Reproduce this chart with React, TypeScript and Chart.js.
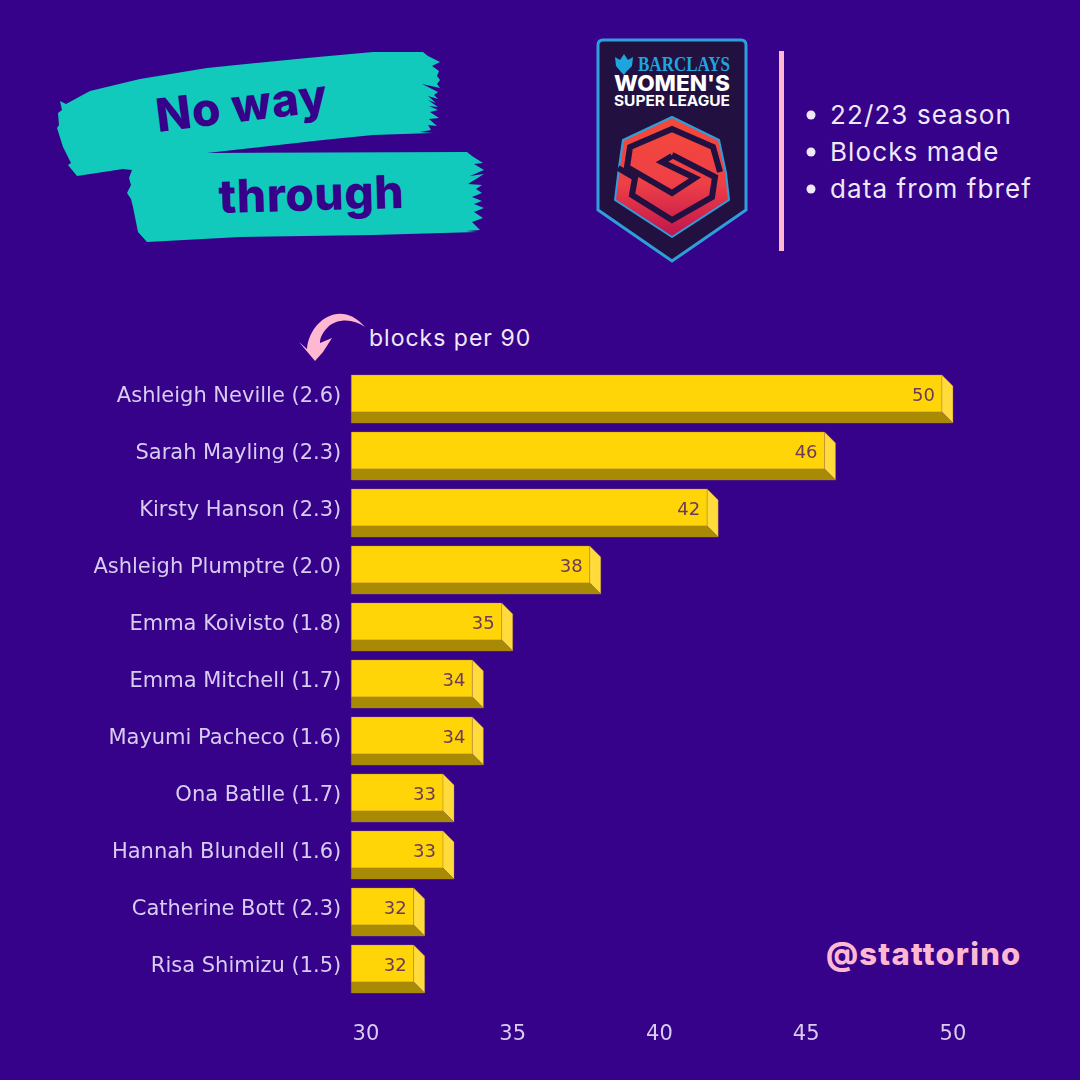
import { useEffect, useRef } from "react"
import { Chart, registerables } from "chart.js"

Chart.register(...registerables)

const players = [
  "Ashleigh Neville",
  "Sarah Mayling",
  "Kirsty Hanson",
  "Ashleigh Plumptre",
  "Emma Koivisto",
  "Emma Mitchell",
  "Mayumi Pacheco",
  "Ona Batlle",
  "Hannah Blundell",
  "Catherine Bott",
  "Risa Shimizu",
]
const blocksPer90 = [2.6, 2.3, 2.3, 2.0, 1.8, 1.7, 1.6, 1.7, 1.6, 2.3, 1.5]
const blocks = [50, 46, 42, 38, 35, 34, 34, 33, 33, 32, 32]
const xTicks = [30, 35, 40, 45, 50]
const notes = ["22/23 season", "Blocks made", "data from fbref"]

const BG = "#36028a"
const PINK = "#ffb8d2"
const LABEL = "#d8ccf0"
const YELLOW = "#ffd508"
const DEPTH = 11

// bars are drawn by hand so they get the bevelled look
const bars3d = {
  id: "bars3d",
  beforeDatasetDraw(chart: any, args: any) {
    const ctx = chart.ctx
    args.meta.data.forEach((bar: any) => {
      const top = bar.y - bar.height / 2
      const bottom = bar.y + bar.height / 2
      const front = bar.x - DEPTH
      const poly = (pts: number[][], fill: string) => {
        ctx.beginPath()
        pts.forEach((p, i) => (i ? ctx.lineTo(p[0], p[1]) : ctx.moveTo(p[0], p[1])))
        ctx.closePath()
        ctx.fillStyle = fill
        ctx.fill()
        ctx.lineWidth = 1
        ctx.strokeStyle = "rgba(175,125,60,0.35)"
        ctx.stroke()
      }
      poly([[bar.base, top], [front, top], [front, bottom - DEPTH], [bar.base, bottom - DEPTH]], YELLOW)
      poly([[front, top], [bar.x, top + DEPTH], [bar.x, bottom], [front, bottom - DEPTH]], "#ffdb3c")
      poly([[bar.base, bottom - DEPTH], [front, bottom - DEPTH], [bar.x, bottom], [bar.base, bottom]], "#a98a04")
    })
    return false
  },
  afterDraw(chart: any) {
    const ctx = chart.ctx
    const meta = chart.getDatasetMeta(0)
    ctx.save()
    ctx.font = "18px 'DejaVu Sans'"
    ctx.fillStyle = "#6b3a5c"
    ctx.textAlign = "right"
    ctx.textBaseline = "middle"
    meta.data.forEach((bar: any, i: number) => {
      ctx.fillText(String(blocks[i]), bar.x - DEPTH - 7, bar.y - 3)
    })
    ctx.restore()
  },
}

function Header() {
  return (
    <svg width={1080} height={1080} style={{ position: "absolute", left: 0, top: 0 }}>
      <defs>
        <linearGradient id="wsl" x1="0" y1="0" x2="0" y2="1">
          <stop offset="0" stopColor="#f5493a" />
          <stop offset="0.55" stopColor="#ee4046" />
          <stop offset="1" stopColor="#c0144f" />
        </linearGradient>
      </defs>

      {/* brush strokes */}
      <path
        fill="#12cabb"
        d="M60 101 L66 104 L90 91 L140 79 L207 68 L307 58 L373 52 L423 52 L428 56 L440 62 L432 66 L439 71 L437 76 L440 80 L437 84 L440 88 L422 84 L438 92 L434 95 L438 99 L428 96 L436 103 L428 100 L438 107 L429 106 L438 110 L430 112 L439 118 L429 119 L437 126 L428 125 L431 130 L420 132 L433 133 L373 135 L323 140 L207 153 L467 152 L472 156 L483 163 L474 164 L484 170 L470 176 L484 174 L468 184 L482 185 L476 189 L482 193 L472 197 L482 201 L474 204 L484 208 L474 212 L483 218 L472 222 L480 230 L466 231 L477 232 L373 235 L240 237 L147 242 L138 232 L136 222 L133 207 L131 199 L127 193 L131 185 L129 178 L132 170 L123 169 L77 176 L68 165 L71 163 L63 147 L57 128 L59 125 L58 113 L62 110 Z"
      />
      <text transform="translate(158 132) rotate(-7)" fontFamily="Inter" fontWeight={800} fontSize={46} letterSpacing={0.8} fill="#36028a">No way</text>
      <text transform="translate(219 213) rotate(-1.6)" fontFamily="Inter" fontWeight={800} fontSize={46} letterSpacing={0.6} fill="#36028a">through</text>

      {/* league badge */}
      <path d="M603 40 H741 Q746 40 746 45 V210 L672 261 L598 210 V45 Q598 40 603 40 Z" fill="#221040" stroke="#2f9fdc" strokeWidth={3} />
      <path d="M615 57 L620 60 L624 54 L628 60 L633 57 L632 66 L626 72 L624 75 L621 72 L616 66 Z" fill="#1fa5de" />
      <text x={638} y={71} fontFamily="Liberation Serif" fontWeight={700} fontSize={21} fill="#1fa5de" textLength={92} lengthAdjust="spacingAndGlyphs">BARCLAYS</text>
      <text x={614} y={91} fontFamily="Inter" fontWeight={800} fontSize={21} fill="#ffffff" textLength={116} lengthAdjust="spacingAndGlyphs">WOMEN'S</text>
      <text x={614} y={106} fontFamily="Inter" fontWeight={700} fontSize={14} fill="#ffffff" textLength={116} lengthAdjust="spacingAndGlyphs">SUPER LEAGUE</text>
      <path d="M672 117 L719 140 L726 173 L729 200 L672 237 L615 200 L619 167 L623 140 Z" fill="url(#wsl)" stroke="#2f9fdc" strokeWidth={2} strokeLinejoin="round" />
      <g fill="none" stroke="#221040" strokeWidth={6} strokeLinejoin="miter">
        <path d="M720 172 L713 147 L672 129 L630 147 L627 167 L672 193 L695 178 L662 162 L672 156" />
        <path d="M618 168 L635 178 L632 195 L672 220 L712 197 L715 177 L672 155" />
      </g>

      <rect x={779} y={51} width={5} height={200} fill={PINK} />

      {notes.map((note, i) => (
        <g key={note}>
          <circle cx={811} cy={115 + i * 37} r={4.5} fill="#efe8f8" />
          <text x={830} y={124 + i * 37} fontFamily="Inter" fontSize={26} letterSpacing={1.1} fill="#efe8f8">{note}</text>
        </g>
      ))}

      {/* arrow to the per 90 numbers */}
      <path d="M365 327 C354 319 338 318 328 327 C322 333 320 338 320 343 L332 338 L323 352 L315 361 L299 342 L307 349 C309 322 340 298 365 327 Z" fill={PINK} />
      <text x={369} y={346} fontFamily="Inter" fontSize={23} letterSpacing={1} fill="#efe8f8">blocks per 90</text>
      <text x={826} y={965} fontFamily="Inter" fontWeight={800} fontSize={31} letterSpacing={1.2} fill={PINK}>@stattorino</text>
    </svg>
  )
}

export default function App() {
  const chartRef = useRef<HTMLCanvasElement>(null)

  useEffect(() => {
    if (!chartRef.current) return
    const chart = new Chart(chartRef.current, {
      type: "bar",
      data: {
        labels: players.map((p, i) => `${p} (${blocksPer90[i].toFixed(1)})`),
        datasets: [{ data: blocks, backgroundColor: YELLOW, barThickness: 48, base: 29.5 }],
      },
      plugins: [bars3d],
      options: {
        indexAxis: "y",
        responsive: false,
        animation: false,
        devicePixelRatio: 1,
        layout: { padding: { left: 0, right: 97.7, top: 370.5, bottom: 22.5 } },
        scales: {
          x: {
            min: 29.5,
            max: 51,
            afterBuildTicks: (axis: any) => {
              axis.ticks = xTicks.map((value) => ({ value }))
            },
            afterFit: (axis: any) => {
              axis.height = 60
            },
            grid: { display: false },
            border: { display: false },
            ticks: {
              color: LABEL,
              padding: 16,
              maxRotation: 0,
              font: { family: "DejaVu Sans", size: 21 },
            },
          },
          y: {
            afterFit: (axis: any) => {
              axis.width = 351.3
            },
            grid: { display: false },
            border: { display: false },
            ticks: {
              color: LABEL,
              padding: 2,
              autoSkip: false,
              labelOffset: -2,
              font: { family: "DejaVu Sans", size: 21 },
            },
          },
        },
        plugins: {
          legend: { display: false },
          tooltip: { enabled: false },
        },
      },
    } as any)

    return () => {
      chart.destroy()
    }
  }, [])

  return (
    <div style={{ position: "absolute", left: 0, top: 0, width: 1080, height: 1080, background: BG, overflow: "hidden" }}>
      <Header />
      <canvas ref={chartRef} width={1080} height={1080} style={{ position: "absolute", left: 0, top: 0 }} />
    </div>
  )
}
